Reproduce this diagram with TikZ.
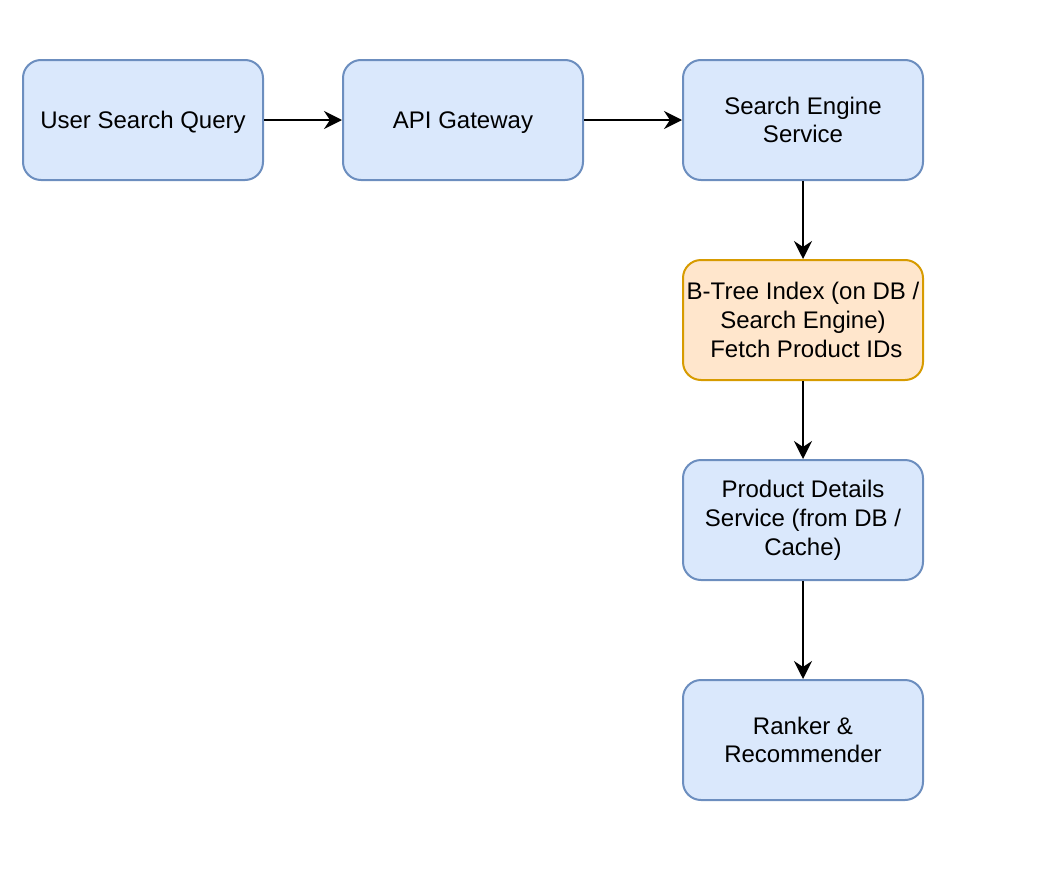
\documentclass[tikz,border=0pt]{standalone}
\usepackage{fontspec}
\setmainfont{Liberation Sans}
\usetikzlibrary{arrows.meta}
\definecolor{bluefill}{HTML}{DAE8FC}
\definecolor{bluedraw}{HTML}{6C8EBF}
\definecolor{orangefill}{HTML}{FFE6CC}
\definecolor{orangedraw}{HTML}{D79B00}
\begin{document}
\begin{tikzpicture}[x=1pt,y=-1pt,
  box/.style={draw=bluedraw,fill=bluefill,line width=2pt,rounded corners=18pt,
    minimum width=240pt,minimum height=120pt,inner sep=0pt,align=center,
    font=\fontsize{24}{28.8}\selectfont,text=black},
  single/.style={text depth=0pt},
  obox/.style={box,draw=orangedraw,fill=orangefill},
  conn/.style={line width=2pt,-{Stealth[length=18pt,width=18pt,inset=6pt]}}]
\useasboundingbox (0,0) rectangle (1053,881);
\node[box,single] (usq) at (143,120) {User Search Query};
\node[box,single] (api) at (463,120) {API Gateway};
\node[box] (ses) at (803,120) {Search Engine\\Service};
\node[obox] (bt) at (803,320) {B-Tree Index (on DB /\\Search Engine)\\\hspace{6.7pt}Fetch Product IDs};
\node[box] (pds) at (803,520) {Product Details\\Service (from DB /\\Cache)};
\node[box] (rr) at (803,740) {Ranker \&\\Recommender};
\draw[conn] (usq.east) -- (api.west);
\draw[conn] (api.east) -- (ses.west);
\draw[conn] (ses.south) -- (bt.north);
\draw[conn] (bt.south) -- (pds.north);
\draw[conn] (pds.south) -- (rr.north);
\end{tikzpicture}
\end{document}
